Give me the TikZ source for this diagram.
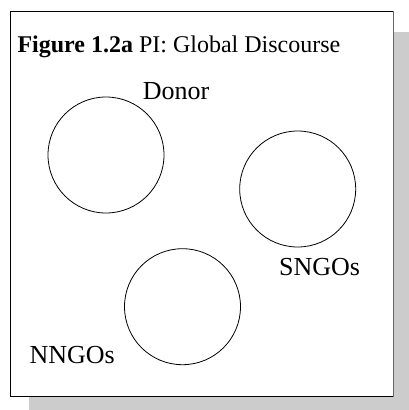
\documentclass[tikz,border=0pt]{standalone}
\usepackage{fontspec}
\setmainfont{Liberation Serif}
\begin{document}
\begin{tikzpicture}[x=1pt,y=-1pt,
  ring/.style={draw=black,line width=0.8pt,circle,minimum size=116pt,inner sep=0pt},
  lbl/.style={anchor=base west,inner sep=0pt,font=\fontsize{26}{31}\selectfont},
  heading/.style={anchor=base west,inner sep=0pt,font=\fontsize{24}{29}\selectfont}]
  \useasboundingbox (0,0) rectangle (409,410);
  % drop shadow behind the frame
  \fill[black!20] (29,32) rectangle (409,410);
  % frame
  \fill[white] (10,11.5) rectangle (393.5,396);
  \draw[line width=0.8pt] (393.5,396) -- (10,396) -- (10,11.5) -- (393.5,11.5);
  \draw[line width=1.6pt,black!60] (393.5,11) -- (393.5,396.5);
  % heading
  \node[heading] (title) at (17.3,52.7) {\textbf{Figure 1.2a} PI: Global Discourse};
  % actors
  \node[ring] (donor) at (106,155) {};
  \node[ring] (sngo) at (297.7,189) {};
  \node[ring] (nngo) at (182.5,306.7) {};
  \node[lbl] (donorlbl) at (142.7,99.3) {Donor};
  \node[lbl] (sngolbl) at (279,275) {SNGOs};
  \node[lbl] (nngolbl) at (29.3,363.3) {NNGOs};
\end{tikzpicture}
\end{document}
